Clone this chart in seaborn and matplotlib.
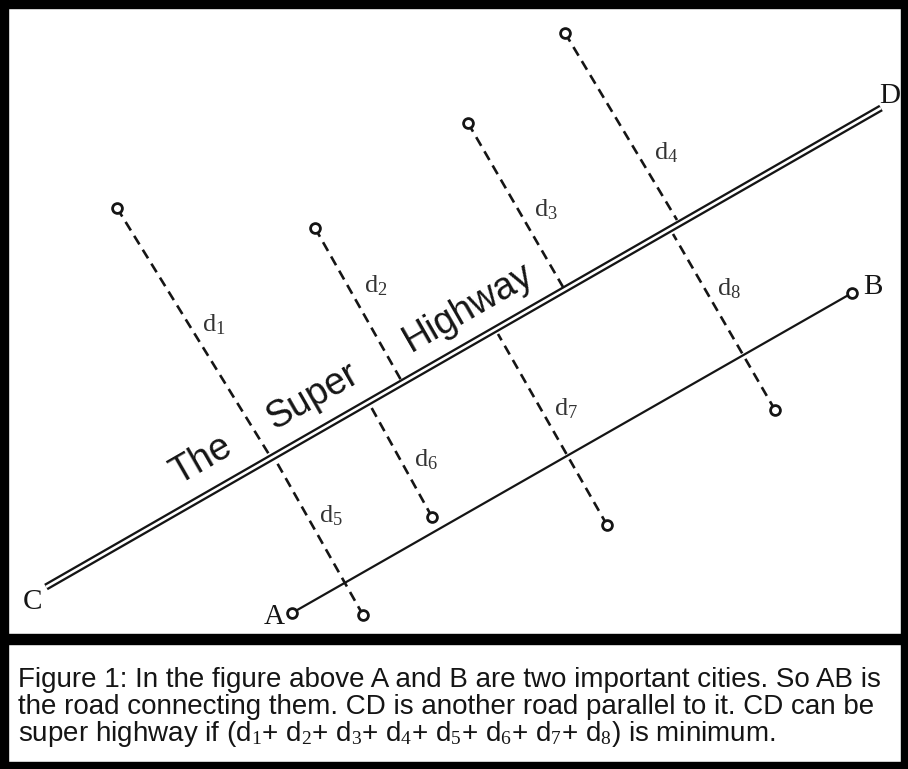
import numpy as np
import pandas as pd
import matplotlib
matplotlib.use("Agg")
import matplotlib.pyplot as plt
from matplotlib.patches import Rectangle
import seaborn as sns

# picture coordinates (pixels, y grows downwards)
# road CD (the super highway) and road AB
cd_x = [46, 881]
cd_y = [587, 108]
ab_x = [292, 852]
ab_y = [613, 293]

# cities and the foot of each distance on CD
dist_names = ["1", "2", "3", "4", "5", "6", "7", "8"]
city_x = [117, 315, 468, 565, 363, 432, 607, 775]
city_y = [208, 228, 123, 33, 615, 517, 525, 410]
foot_x = [270, 401, 563, 677, 276, 370, 498, 673]
foot_y = [456, 380, 287, 220, 461, 405, 334, 234]
label_x = [214, 376, 546, 666, 331, 426, 566, 729]
label_y = [325, 286, 210, 153, 516, 460, 409, 289]

# end point letters
end_names = ["C", "D", "A", "B"]
end_x = [33, 890, 274, 873]
end_y = [602, 96, 617, 287]

highway_words = ["The", "Super", "Highway"]
word_x = [201, 313, 468]
word_y = [460, 397, 308]

caption_lines = [
    "Figure 1: In the figure above A and B are two important cities. So AB is",
    "the road connecting them. CD is another road parallel to it. CD can be",
    "super highway if (d$_\\mathrm{1}$+ d$_\\mathrm{2}$+ d$_\\mathrm{3}$+ d$_\\mathrm{4}$+ "
    "d$_\\mathrm{5}$+ d$_\\mathrm{6}$+ d$_\\mathrm{7}$+ d$_\\mathrm{8}$) is minimum.",
]
caption_y = [687, 714, 741]

ink = "#151515"

sns.set_theme(style="white")
plt.rcParams["font.family"] = ["Liberation Sans", "DejaVu Sans"]
plt.rcParams["mathtext.fontset"] = "custom"
plt.rcParams["mathtext.rm"] = "Liberation Serif"
plt.rcParams["mathtext.it"] = "Liberation Serif:italic"
plt.rcParams["mathtext.bf"] = "Liberation Serif:bold"

fig = plt.figure(figsize=(9.08, 7.69), dpi=100)
ax = fig.add_axes([0, 0, 1, 1])

# dashed distances from each city to CD
seg = pd.DataFrame({
    "x": city_x + foot_x,
    "y": city_y + foot_y,
    "seg": dist_names * 2,
})
sns.lineplot(data=seg, x="x", y="y", units="seg", estimator=None, sort=False,
             color=ink, lw=1.9, linestyle=(0, (3.8, 2.4)), ax=ax, legend=False,
             zorder=2)

# the highway: thick black with a white core gives the double line
road = pd.DataFrame({"x": cd_x, "y": cd_y})
sns.lineplot(data=road, x="x", y="y", estimator=None, sort=False, color=ink,
             lw=5.2, solid_capstyle="butt", ax=ax, zorder=3)
sns.lineplot(data=road, x="x", y="y", estimator=None, sort=False, color="white",
             lw=1.9, solid_capstyle="butt", ax=ax, zorder=4)

# road AB
ab = pd.DataFrame({"x": ab_x, "y": ab_y})
sns.lineplot(data=ab, x="x", y="y", estimator=None, sort=False, color=ink,
             lw=1.6, ax=ax, zorder=3)

# cities as open circles
sns.scatterplot(x=city_x + ab_x, y=city_y + ab_y, s=50, color="white",
                edgecolor=ink, linewidth=2.0, ax=ax, zorder=5)

for name, x, y in zip(dist_names, label_x, label_y):
    ax.text(x, y, "$\\mathrm{d_%s}$" % name, fontsize=19, color="#333333",
            ha="center", va="center", zorder=6)

for name, x, y in zip(end_names, end_x, end_y):
    ax.text(x, y, name, fontsize=21, family="Liberation Serif", color=ink,
            ha="center", va="center", zorder=6)

angle = np.degrees(np.arctan2(cd_y[0] - cd_y[1], cd_x[1] - cd_x[0]))
for word, x, y in zip(highway_words, word_x, word_y):
    ax.text(x, y, word, fontsize=27, color=ink, rotation=angle,
            rotation_mode="anchor", ha="center", va="center", zorder=6)

for line, y in zip(caption_lines, caption_y):
    ax.text(18, y, line, fontsize=20, color=ink, ha="left", va="baseline")

# frame round the picture and the caption box
for x0, y0, w, h in [(0, 0, 908, 8), (0, 0, 8, 769), (901, 0, 7, 769),
                     (0, 762, 908, 7), (0, 634, 908, 10)]:
    ax.add_patch(Rectangle((x0, y0), w, h, color="black", zorder=10))

ax.set_xlim(0, 908)
ax.set_ylim(769, 0)
ax.axis("off")

fig.savefig("out.png", dpi=100, facecolor="white")
